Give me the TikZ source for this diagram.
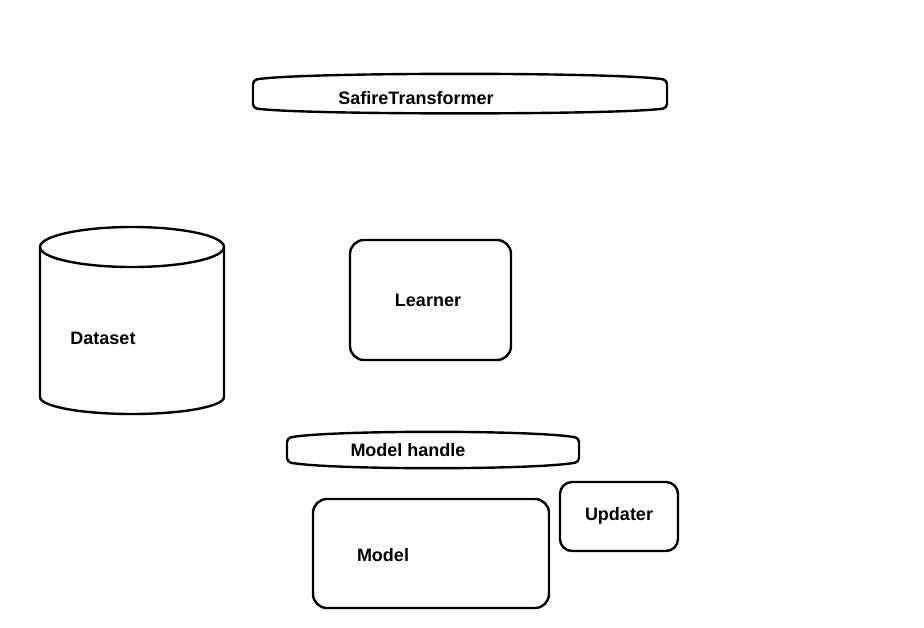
\documentclass[tikz,border=0pt]{standalone}
\usepackage{fontspec}
\setmainfont{Liberation Sans}

\begin{document}
\begin{tikzpicture}[x=1pt, y=-1pt, line width=2.4pt,
  box/.style={draw, rounded corners=14pt, inner sep=0pt},
  lbl/.style={font=\fontsize{18}{20}\selectfont\bfseries, inner sep=0pt}]

\useasboundingbox (0,0) rectangle (924,627);

% SafireTransformer band
\draw [rounded corners=4pt] (253,80) .. controls (300,72) and (620,72) .. (667,80)
  -- (667,108) .. controls (620,115) and (300,115) .. (253,108) -- cycle;
\node (safire) at (416,98) [lbl] {SafireTransformer};

% Dataset store
\draw (40,247) -- (40,397) arc [start angle=180, end angle=0, x radius=92, y radius=17] -- (224,247);
\draw (132,247) ellipse [x radius=92, y radius=20];
\node (dataset) at (103,338) [lbl] {Dataset};

% Learner
\node (learnerbox) at (430.5,300) [box, minimum width=161pt, minimum height=120pt] {};
\node (learner) at (428,300) [lbl] {Learner};

% Model handle band
\draw [rounded corners=4pt] (287,438) .. controls (330,430) and (536,430) .. (579,438)
  -- (579,462) .. controls (536,470) and (330,470) .. (287,462) -- cycle;
\node (handle) at (408,450) [lbl] {Model handle};

% Model
\node (modelbox) at (431,553.5) [box, minimum width=236pt, minimum height=109pt] {};
\node (model) at (383,555) [lbl] {Model};

% Updater
\node (updaterbox) at (619,516.5) [box, rounded corners=12pt, minimum width=118pt, minimum height=69pt] {};
\node (updater) at (619,516) [lbl] {Updater};

\end{tikzpicture}
\end{document}
